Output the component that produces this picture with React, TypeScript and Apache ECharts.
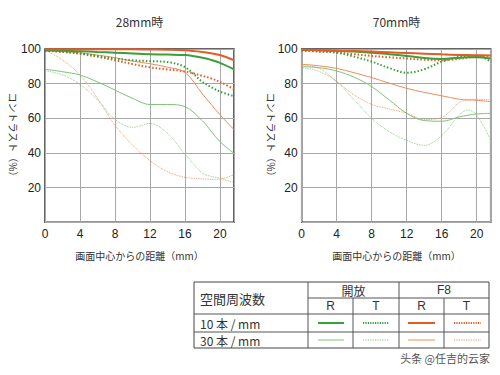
import React, { useEffect, useRef } from "react";
import * as echarts from "echarts";

// shared x positions (mm from image centre)
const xs = [0, 2, 4, 6, 8, 10, 12, 14, 16, 18, 19, 20, 21.6];
const xTicks = [0, 4, 8, 12, 16, 20];
const yTicks = [20, 40, 60, 80, 100];

// 28mm
const w28_10R_open = [99.3, 99, 98.7, 98.3, 97.9, 97.4, 97, 96.8, 96.5, 95, 93.7, 92, 88.3];
const w28_10R_f8 = [99.8, 99.8, 99.8, 99.8, 99.8, 99.8, 99.7, 99.6, 99.3, 98.3, 97.5, 96.5, 93.5];
const w28_10T_open = [99, 98.5, 97.5, 96, 94.5, 93.5, 93, 92.5, 89.5, 81, 78, 75.4, 72.8];
const w28_10T_f8 = [99, 98.3, 97.2, 95.5, 93.5, 91.3, 89.4, 88.2, 87, 84.5, 83, 81, 76.8];
const w28_30R_open = [88.3, 86.9, 85, 81, 76.3, 71.5, 68, 68, 66.7, 58.5, 52.5, 46.5, 39.8];
const w28_30R_f8 = [99, 98.5, 97.8, 96.5, 95, 93, 91.5, 89.5, 86.5, 74, 68, 62, 53.5];
const w28_30T_open = [87.5, 85, 79.6, 70.6, 59.4, 54.8, 57, 51.3, 39.4, 28.3, 26.5, 25.4, 22.9];
const w28_30T_f8 = [99.4, 93.7, 85, 71.5, 56, 44.6, 35.6, 29.2, 26, 25, 24.8, 25, 27.5];

// 70mm
const t70_10R_open = [99.6, 99.3, 99, 98.5, 97.8, 97, 96, 94.8, 94.3, 95, 95.2, 95.2, 94.5];
const t70_10R_f8 = [99.5, 99.3, 99, 98.8, 98.5, 98.1, 97.7, 97.3, 96.9, 96.6, 96.5, 96.4, 96.3];
const t70_10T_open = [99.2, 98.6, 97.9, 95.6, 92.7, 89, 86.3, 88.3, 92.7, 95.6, 96, 96.1, 92.7];
const t70_10T_f8 = [99, 98.6, 98, 97, 96, 95.2, 94.5, 93.8, 93.5, 94.3, 95, 95.5, 96];
const t70_30R_open = [89.8, 89.2, 87.3, 83.7, 78.3, 70.6, 62.9, 58.7, 58.3, 60.8, 61.8, 62.5, 62.9];
const t70_30R_f8 = [91.2, 90.3, 88.8, 86.3, 83.5, 80.3, 77.3, 75, 73, 71, 70.6, 70.4, 69.6];
const t70_30T_open = [89.2, 87, 81.2, 70.6, 60, 52.3, 47.3, 44.4, 50, 62, 64.8, 61.9, 47.5];
const t70_30T_f8 = [90.8, 88.8, 81.2, 73.5, 68, 65.4, 62.9, 59.3, 60.5, 69, 70.8, 71, 70.6];

const GREEN = "#3a9f3a";
const GREEN_L = "#7cc576";
const ORANGE = "#e65a24";
const ORANGE_L = "#f08c5c";
const FONT = '"Liberation Sans", "Noto Sans CJK JP", sans-serif';
const JP = '"Noto Sans CJK JP", "Liberation Sans", sans-serif';

type Spec = { vals: number[]; color: string; width: number; dotted: boolean };

function specs(a: number[][]): Spec[] {
  // order: 30T f8, 30T open, 30R f8, 30R open, 10T f8, 10T open, 10R open, 10R f8
  return [
    { vals: a[0], color: ORANGE_L, width: 1, dotted: true },
    { vals: a[1], color: GREEN_L, width: 1, dotted: true },
    { vals: a[2], color: ORANGE_L, width: 1, dotted: false },
    { vals: a[3], color: GREEN_L, width: 1, dotted: false },
    { vals: a[4], color: ORANGE, width: 2, dotted: true },
    { vals: a[5], color: GREEN, width: 2, dotted: true },
    { vals: a[6], color: GREEN, width: 2, dotted: false },
    { vals: a[7], color: ORANGE, width: 2, dotted: false },
  ];
}

const left = specs([w28_30T_f8, w28_30T_open, w28_30R_f8, w28_30R_open, w28_10T_f8, w28_10T_open, w28_10R_open, w28_10R_f8]);
const right = specs([t70_30T_f8, t70_30T_open, t70_30R_f8, t70_30R_open, t70_10T_f8, t70_10T_open, t70_10R_open, t70_10R_f8]);

export default function App() {
  const ref = useRef<HTMLDivElement>(null);
  useEffect(() => {
    if (!ref.current) return;
    const chart = echarts.init(ref.current, null, { renderer: "svg" });

    const gridBase = {
      top: 49,
      height: 173.3,
      width: 189,
      show: true,
      borderColor: "#333",
      borderWidth: 1.5,
      backgroundColor: "transparent",
    };

    const xAxis = (gi: number) => ({
      type: "value",
      gridIndex: gi,
      min: 0,
      max: 21.6,
      interval: 4,
      axisLine: { show: false },
      axisTick: { show: false },
      splitLine: { show: true, lineStyle: { color: "#a8a8a8", width: 1 } },
      axisLabel: {
        showMaxLabel: false,
        margin: 6,
        fontSize: 12,
        color: "#222",
        fontFamily: FONT,
        formatter: (v: number) => (xTicks.includes(v) ? String(v) : ""),
      },
    });
    const yAxis = (gi: number) => ({
      type: "value",
      gridIndex: gi,
      min: 0,
      max: 100,
      interval: 20,
      axisLine: { show: false },
      axisTick: { show: false },
      splitLine: { show: true, lineStyle: { color: "#a8a8a8", width: 1 } },
      axisLabel: {
        margin: 4,
        fontSize: 12,
        color: "#222",
        fontFamily: FONT,
        formatter: (v: number) => (yTicks.includes(v) ? String(v) : ""),
      },
    });

    const mk = (s: Spec, gi: number) => ({
      type: "line",
      xAxisIndex: gi,
      yAxisIndex: gi,
      data: xs.map((x, i) => [x, s.vals[i]]),
      smooth: 0.35,
      showSymbol: false,
      symbol: "none",
      silent: true,
      lineStyle: { color: s.color, width: s.width, type: s.dotted ? [s.width * 0.75, s.width] : "solid" },
    });

    // table geometry
    const cx = [194, 308, 353, 399, 444, 489];
    const ry = [282, 298, 314, 332, 348];
    const line = (x1: number, y1: number, x2: number, y2: number) => ({
      type: "line",
      shape: { x1, y1, x2, y2 },
      style: { stroke: "#555", lineWidth: 1 },
    });
    const txt = (text: string, x: number, y: number, align: string, size = 12, fill = "#333", font = JP) => ({
      type: "text",
      x,
      y,
      style: { text, fill, fontSize: size, fontFamily: font, align, verticalAlign: "middle" },
    });
    const leg = (x1: number, x2: number, y: number, color: string, w: number, dotted: boolean) => {
      const st: any = { stroke: color, lineWidth: w };
      if (dotted) st.lineDash = [1.2, 1.2];
      return { type: "line", shape: { x1, y1: y, x2, y2: y }, style: st };
    };
    const legCols = [
      [318, 344, GREEN, GREEN_L, false],
      [363, 389, GREEN, GREEN_L, true],
      [408, 435, ORANGE, ORANGE_L, false],
      [454, 481, ORANGE, ORANGE_L, true],
    ] as [number, number, string, string, boolean][];

    const graphics: any[] = [
      txt("28mm時", 139.5, 21, "center", 12, "#333"),
      txt("70mm時", 396.5, 21, "center", 12, "#333"),
      txt("画面中心からの距離（mm）", 139.5, 255, "center", 10, "#333"),
      txt("画面中心からの距離（mm）", 396.5, 255, "center", 10, "#333"),
      {
        type: "text",
        x: 13,
        y: 137,
        rotation: -Math.PI / 2,
        style: { text: "コントラスト（%）", fill: "#333", fontSize: 10, fontFamily: JP, align: "center", verticalAlign: "middle" },
      },
      {
        type: "text",
        x: 271,
        y: 137,
        rotation: -Math.PI / 2,
        style: { text: "コントラスト（%）", fill: "#333", fontSize: 10, fontFamily: JP, align: "center", verticalAlign: "middle" },
      },
      {
        type: "rect",
        shape: { x: cx[0], y: ry[0], width: cx[5] - cx[0], height: ry[4] - ry[0] },
        style: { fill: "none", stroke: "#444", lineWidth: 1 },
      },
      line(cx[1], ry[1], cx[5], ry[1]),
      line(cx[0], ry[2], cx[5], ry[2]),
      line(cx[0], ry[3], cx[5], ry[3]),
      line(cx[1], ry[0], cx[1], ry[4]),
      line(cx[3], ry[0], cx[3], ry[4]),
      line(cx[2], ry[1], cx[2], ry[4]),
      line(cx[4], ry[1], cx[4], ry[4]),
      txt("空間周波数", 200, (ry[0] + ry[2]) / 2, "left", 13),
      txt("開放", (cx[1] + cx[3]) / 2, (ry[0] + ry[1]) / 2, "center", 12),
      txt("F8", (cx[3] + cx[5]) / 2, (ry[0] + ry[1]) / 2, "center", 12, "#333", FONT),
      txt("R", (cx[1] + cx[2]) / 2, (ry[1] + ry[2]) / 2, "center", 12, "#333", FONT),
      txt("T", (cx[2] + cx[3]) / 2, (ry[1] + ry[2]) / 2, "center", 12, "#333", FONT),
      txt("R", (cx[3] + cx[4]) / 2, (ry[1] + ry[2]) / 2, "center", 12, "#333", FONT),
      txt("T", (cx[4] + cx[5]) / 2, (ry[1] + ry[2]) / 2, "center", 12, "#333", FONT),
      txt("10 本 / mm", 200, (ry[2] + ry[3]) / 2, "left", 12),
      txt("30 本 / mm", 200, (ry[3] + ry[4]) / 2, "left", 12),
      txt("头条 @任吉的云家", 490, 358, "right", 11, "#555", '"Noto Sans CJK SC", sans-serif'),
    ];
    legCols.forEach(([a, b, c1, c2, d]) => {
      graphics.push(leg(a, b, (ry[2] + ry[3]) / 2, c1, 2, d));
      graphics.push(leg(a, b, (ry[3] + ry[4]) / 2, c2, 1, d));
    });

    chart.setOption({
      animation: false,
      backgroundColor: "#fff",
      grid: [
        { ...gridBase, left: 45 },
        { ...gridBase, left: 301.7 },
      ],
      xAxis: [xAxis(0), xAxis(1)],
      yAxis: [yAxis(0), yAxis(1)],
      series: [...left.map((s) => mk(s, 0)), ...right.map((s) => mk(s, 1))],
      graphic: graphics,
    });
    return () => chart.dispose();
  }, []);
  return <div ref={ref} style={{ position: "fixed", left: 0, top: 0, width: 500, height: 375 }} />;
}
